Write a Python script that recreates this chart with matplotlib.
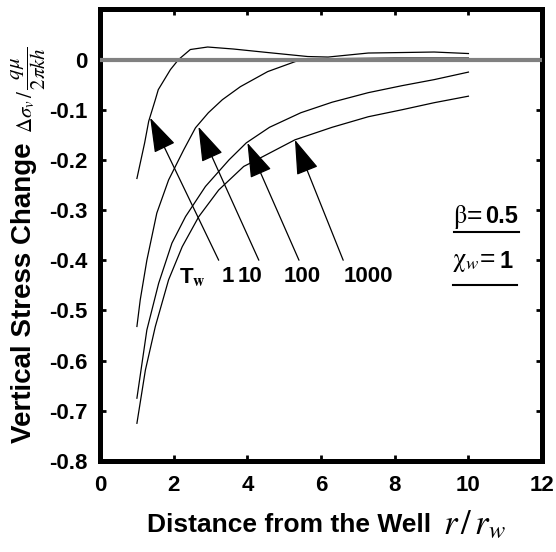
import numpy as np
import matplotlib
matplotlib.use('Agg')
import matplotlib.pyplot as plt

plt.rcParams['font.family'] = ['Liberation Sans', 'DejaVu Sans']
plt.rcParams['mathtext.fontset'] = 'stix'

# Curves (r/r_w, normalised vertical stress change):
# T_w = 1
x_t1 = [1.0, 1.21, 1.32, 1.5, 1.58, 1.91, 2.13, 2.45, 2.92, 3.62, 4.55,
        5.64, 6.19, 7.28, 8.2, 9.07, 10.0]
y_t1 = [-0.237, -0.166, -0.123, -0.08, -0.06, -0.02, 0.0, 0.02, 0.025,
        0.021, 0.014, 0.006, 0.005, 0.013, 0.014, 0.015, 0.012]
# T_w = 10
x_t10 = [1.0, 1.09, 1.27, 1.54, 1.86, 2.27, 2.59, 2.94, 3.32, 3.81, 4.55,
         5.45, 6.5, 8.0, 10.0]
y_t10 = [-0.532, -0.479, -0.40, -0.306, -0.24, -0.18, -0.136, -0.106,
         -0.08, -0.054, -0.024, 0.0, 0.002, 0.003, 0.003]
# T_w = 100
x_t100 = [1.0, 1.27, 1.59, 1.95, 2.32, 2.86, 3.5, 3.97, 4.6, 5.45, 6.3,
          7.28, 8.2, 9.07, 10.0]
y_t100 = [-0.675, -0.539, -0.446, -0.366, -0.313, -0.253, -0.2, -0.166,
          -0.135, -0.106, -0.085, -0.066, -0.052, -0.04, -0.025]
# T_w = 1000
x_t1000 = [1.0, 1.23, 1.5, 1.86, 2.23, 2.68, 3.22, 3.9, 4.17, 5.29, 6.3,
           7.28, 8.2, 9.07, 10.0]
y_t1000 = [-0.725, -0.619, -0.532, -0.439, -0.373, -0.313, -0.26, -0.213,
           -0.203, -0.16, -0.135, -0.114, -0.1, -0.086, -0.073]

# Arrow annotations (tip on curve, tail above the labels):
tw_labels = ['1', '10', '100', '1000']
arrow_tips = [(1.36, -0.116), (2.67, -0.134), (4.0, -0.166), (5.29, -0.16)]
arrow_tails = [(3.22, -0.40), (4.31, -0.40), (5.40, -0.40), (6.60, -0.40)]
label_x = [3.47, 4.08, 5.48, 7.29]
label_y = -0.433

x_ticks = np.arange(0, 13, 2)
y_ticks = np.round(np.arange(-0.8, 0.01, 0.1), 1)

# %%
fig = plt.figure(figsize=(5.56, 5.52), dpi=100)
ax = fig.add_axes([0.18, 0.165, 0.795, 0.818])

for xs, ys in [(x_t1, y_t1), (x_t10, y_t10), (x_t100, y_t100),
               (x_t1000, y_t1000)]:
    ax.plot(xs, ys, color='black', lw=0.9, zorder=2)

ax.axhline(0, color='#808080', lw=3, zorder=3)

for tip, tail in zip(arrow_tips, arrow_tails):
    ax.annotate('', xy=tip, xytext=tail,
                arrowprops=dict(arrowstyle='-|>,head_length=2.2,head_width=0.72',
                                mutation_scale=10, color='black', lw=0.9,
                                shrinkA=0, shrinkB=0))

ax.text(2.13, label_y, r'T$_\mathbf{w}$', fontsize=16, fontweight='bold',
        ha='left', va='center')
for lab, lx in zip(tw_labels, label_x):
    ax.text(lx, label_y, lab, fontsize=16, fontweight='bold',
            ha='center', va='center')

# Parameter box on the right:
ax.text(9.58, -0.313, r'$\mathrm{\beta}$=', fontsize=19, ha='left',
        va='center')
ax.text(10.44, -0.313, '0.5', fontsize=17, fontweight='bold',
        ha='left', va='center')
ax.plot([9.62, 11.36], [-0.343, -0.343], color='black', lw=1.5)
ax.text(9.55, -0.403, r'$\mathrm{\chi}_w$=', fontsize=19, ha='left',
        va='center')
ax.text(10.84, -0.403, '1', fontsize=17, fontweight='bold',
        ha='left', va='center')
ax.plot([9.59, 11.31], [-0.449, -0.449], color='black', lw=1.5)

ax.set_xlim(0, 12)
ax.set_ylim(-0.8, 0.1)
ax.set_xticks(x_ticks)
ax.set_yticks(y_ticks)
ax.set_xticklabels([str(v) for v in x_ticks])
ax.set_yticklabels(['0' if v == 0 else f'{v:.1f}' for v in y_ticks])
ax.tick_params(direction='in', length=4, width=2, top=True, right=True,
               labelsize=16)
ax.tick_params(axis='x', pad=10)
ax.tick_params(axis='y', pad=9)
for lab in ax.get_xticklabels() + ax.get_yticklabels():
    lab.set_fontweight('bold')
for sp in ax.spines.values():
    sp.set_linewidth(3.6)

# Axis labels (bold sans part and serif math part):
fig.text(147 / 556, 1 - 525 / 552, 'Distance from the Well', fontsize=19,
         fontweight='bold', ha='left', va='center')
fig.text(443 / 556, 1 - 525 / 552, r'$r\,/\,r_w$', fontsize=25,
         ha='left', va='center')
fig.text(24 / 556, 1 - 443 / 552, 'Vertical Stress Change', fontsize=20,
         fontweight='bold', rotation=90, ha='center', va='bottom')
fig.text(29 / 556, 1 - 133 / 552,
         r'$\Delta\sigma_v\,/\,\dfrac{q\mu}{2\pi kh}$',
         fontsize=15, rotation=90, ha='center', va='bottom')

fig.savefig('out.png', dpi=100)
